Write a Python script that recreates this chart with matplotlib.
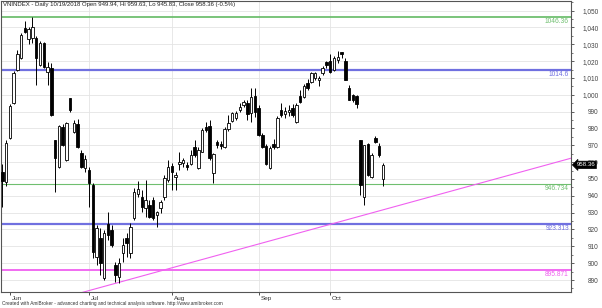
import numpy as np
import matplotlib
matplotlib.use("Agg")
import matplotlib.pyplot as plt
from matplotlib.ticker import FuncFormatter, MultipleLocator
from matplotlib import transforms

plt.rcParams['font.family'] = ['Liberation Sans', 'DejaVu Sans']

# ---- data (VNINDEX daily, 30 May - 19 Oct 2018) ----
opens = [954.0, 948.1, 974.2, 994.9, 1014.5, 1021.6, 1039.9, 1033.4, 1034.0, 1034.0,
         1017.4, 1031.0, 1013.3, 1015.6, 972.9, 957.0, 980.7, 961.1, 997.9, 977.7,
         982.4, 965.3, 956.4, 955.2, 946.3, 903.6, 914.9, 891.2, 923.2, 919.6,
         898.9, 891.8, 906.0, 914.9, 906.0, 926.7, 941.0, 939.2, 932.7, 934.5,
         937.4, 928.5, 932.7, 939.2, 949.3, 957.6, 951.2, 958.8, 959.5, 958.2,
         958.8, 968.8, 956.4, 965.9, 980.7, 981.3, 953.4, 971.7, 971.0, 968.8,
         979.5, 984.2, 986.0, 990.7, 993.7, 994.9, 989.0, 999.0, 991.9, 975.9,
         969.4, 956.4, 971.0, 968.8, 990.7, 988.5, 989.5, 991.9, 983.6, 999.0,
         998.4, 1006.7, 1007.3, 1010.2, 1008.5, 1012.7, 1019.2, 1020.3, 1014.5, 1020.5,
         1025.0, 1020.3, 1003.8, 999.6, 999.0, 973.0, 939.2, 970.6, 951.0, 974.2,
         969.4, 949.94]
highs = [959.0, 973.0, 994.3, 1014.4, 1026.3, 1036.4, 1044.0, 1040.5, 1045.9, 1035.0,
         1032.2, 1031.6, 1019.2, 1018.6, 973.0, 981.9, 982.4, 983.6, 997.9, 984.8,
         985.4, 967.0, 964.0, 957.0, 947.5, 922.6, 920.8, 919.6, 930.3, 922.6,
         900.6, 903.0, 914.9, 917.9, 923.8, 944.5, 949.0, 943.3, 949.3, 937.4,
         939.2, 931.0, 937.4, 952.2, 961.1, 959.4, 954.0, 965.9, 962.3, 959.9,
         967.0, 973.0, 968.8, 980.1, 983.6, 984.8, 965.3, 973.0, 972.5, 980.7,
         987.8, 989.6, 990.5, 994.9, 997.0, 996.7, 1003.8, 1003.8, 993.7, 977.1,
         970.6, 969.4, 974.0, 987.2, 994.9, 993.0, 994.0, 994.3, 994.9, 1002.6,
         1006.1, 1009.6, 1013.3, 1013.5, 1011.0, 1017.0, 1020.3, 1024.5, 1023.3, 1026.0,
         1025.1, 1021.6, 1005.6, 1000.5, 999.6, 973.0, 970.0, 971.2, 965.3, 975.3,
         971.2, 959.63]
lows = [933.3, 946.0, 973.6, 994.3, 1013.9, 1021.0, 1036.4, 1030.0, 1030.5, 1005.6,
        1016.8, 1015.6, 1005.6, 987.2, 942.2, 956.4, 969.4, 960.5, 989.6, 977.1,
        968.2, 956.4, 954.0, 933.3, 903.0, 898.9, 893.0, 890.0, 914.0, 909.5,
        888.8, 888.2, 900.6, 903.6, 903.0, 925.5, 939.0, 930.3, 927.3, 926.7,
        925.5, 921.4, 929.7, 937.4, 948.1, 943.3, 943.3, 955.2, 957.0, 955.2,
        958.2, 962.9, 955.8, 965.9, 977.7, 961.1, 947.5, 968.2, 968.0, 968.2,
        978.6, 983.6, 985.0, 989.6, 993.0, 984.8, 983.6, 986.6, 975.3, 968.2,
        958.2, 955.8, 968.0, 968.2, 986.6, 986.0, 987.5, 986.6, 983.0, 994.9,
        997.8, 1002.6, 1006.7, 1009.0, 1005.5, 1011.5, 1015.6, 1013.0, 1014.0, 1019.0,
        1021.6, 1008.5, 996.7, 996.0, 991.9, 940.4, 934.5, 951.6, 950.4, 971.2,
        962.9, 945.83]
closes = [948.7, 971.2, 993.1, 1012.7, 1024.5, 1035.2, 1037.0, 1039.3, 1040.0, 1021.6,
          1031.0, 1016.2, 1016.2, 987.8, 962.3, 981.3, 970.0, 983.0, 990.7, 983.0,
          968.8, 957.0, 961.7, 947.5, 906.6, 920.8, 900.0, 917.9, 916.7, 910.7,
          893.0, 900.0, 910.7, 911.8, 921.4, 942.2, 944.0, 933.3, 937.4, 927.3,
          926.7, 930.3, 936.2, 950.5, 957.0, 954.0, 952.4, 960.0, 961.0, 957.0,
          964.1, 964.1, 967.0, 978.9, 978.9, 962.3, 964.7, 970.0, 969.4, 979.5,
          983.0, 989.0, 989.0, 992.5, 995.5, 988.4, 998.4, 989.6, 975.9, 968.8,
          958.8, 968.2, 969.0, 986.0, 987.8, 990.5, 991.0, 987.8, 993.7, 995.5,
          1005.0, 1003.8, 1012.7, 1012.7, 1010.2, 1015.6, 1017.4, 1013.3, 1021.6, 1022.5,
          1024.5, 1008.5, 996.7, 996.7, 994.3, 946.3, 970.0, 952.2, 964.1, 971.7,
          964.1, 958.36]

month_idx = [2, 23, 45, 68, 87]
month_lbl = ["Jun", "Jul", "Aug", "Sep", "Oct"]

hlines = [1046.36, 1014.6, 946.734, 923.313, 895.871]
hline_lbl = ["1046.36", "1014.6", "946.734", "923.313", "895.871"]
hline_col = ["#6fbf6f", "#7070e0", "#6fbf6f", "#7070e0", "#f060f0"]
hline_lw = [1.3, 1.6, 0.8, 1.6, 1.3]

trend_x = [0, 151]
trend_y = [869.6, 962.4]

last_close = 958.36
title = "VNINDEX - Daily 10/19/2018 Open 949.94, Hi 959.63, Lo 945.83, Close 958.36 (-0.5%)"
footer = "Created with AmiBroker - advanced charting and technical analysis software. http://www.amibroker.com"

# ---- plot ----
fig = plt.figure(figsize=(6.02, 3.08), dpi=100)
ax = fig.add_axes([0.002, 0.052, 0.946, 0.946])

x = np.arange(len(opens))
o = np.array(opens); h = np.array(highs); l = np.array(lows); c = np.array(closes)
up = c >= o

ax.vlines(x, l, h, color="black", lw=0.7, zorder=3)
bot = np.minimum(o, c)
hgt = np.maximum(np.abs(c - o), 0.6)
ax.bar(x[up], hgt[up], bottom=bot[up], width=0.65, color="white",
       edgecolor="black", linewidth=0.6, zorder=4)
ax.bar(x[~up], hgt[~up], bottom=bot[~up], width=0.65, color="black",
       edgecolor="black", linewidth=0.6, zorder=4)

tr = transforms.blended_transform_factory(ax.transAxes, ax.transData)
for v, lb, col, lw in zip(hlines, hline_lbl, hline_col, hline_lw):
    ax.axhline(v, color=col, lw=lw, zorder=2)
    ax.text(0.997, v - 0.6, lb, color=col, fontsize=4.8, ha="right", va="top",
            transform=tr, zorder=5)

ax.plot(trend_x, trend_y, color="#f060f0", lw=0.8, zorder=2)

ax.set_xlim(-0.3, 150.8)
ax.set_ylim(882.9, 1055.9)

# grid
ax.yaxis.set_major_locator(MultipleLocator(10))
ax.yaxis.set_minor_locator(MultipleLocator(5))
ax.grid(axis="y", which="major", color="#e4e4e4", lw=0.6, zorder=0)
for m in month_idx[1:]:
    ax.axvline(m, color="#e4e4e4", lw=0.6, zorder=0)

ax.yaxis.tick_right()
ax.yaxis.set_major_formatter(FuncFormatter(lambda v, p: f"{v:,.0f}"))
ax.tick_params(axis="y", which="major", length=2, width=0.6, labelsize=4.7,
               colors="#444444", pad=18)
ax.tick_params(axis="y", which="minor", length=1.5, width=0.5, colors="#444444")
for lab in ax.get_yticklabels():
    lab.set_horizontalalignment("right")

ax.set_xticks(month_idx)
ax.set_xticklabels(month_lbl)
ax.tick_params(axis="x", length=2.5, width=0.6, labelsize=4.6, colors="#333333", pad=0.5)
off = transforms.ScaledTranslation(2 / 100, 0, fig.dpi_scale_trans)
for lab in ax.get_xticklabels():
    lab.set_horizontalalignment("left")
    lab.set_transform(lab.get_transform() + off)

for s in ax.spines.values():
    s.set_color("#555555")
    s.set_linewidth(0.8)

ax.text(0.003, 0.995, title, transform=ax.transAxes, fontsize=4.3, ha="left", va="top",
        color="#222222", zorder=6)

ax.annotate(f"{last_close:.2f}", xy=(1.0, last_close), xytext=(1.01, last_close),
            xycoords=tr, textcoords=tr,
            fontsize=4.4, color="white", ha="left", va="center", annotation_clip=False,
            zorder=10,
            bbox=dict(boxstyle="larrow,pad=0.2", fc="black", ec="black", lw=0.5))

fig.text(0.004, 0.005, footer, fontsize=3.4, ha="left", va="bottom", color="#333333")

fig.savefig("out.png", dpi=100)
